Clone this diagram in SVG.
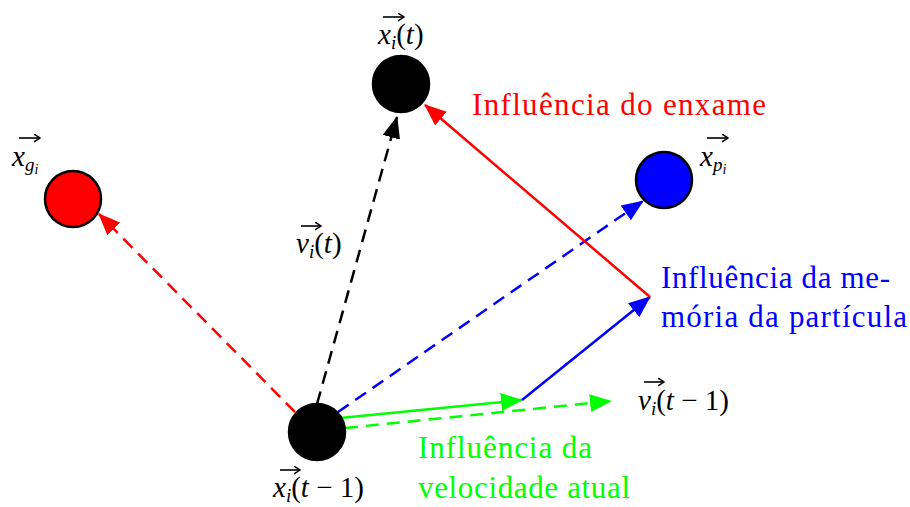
<svg xmlns="http://www.w3.org/2000/svg" width="910" height="507" viewBox="0 0 910 507">
<style>
.lbl{font-family:'Liberation Serif','Times New Roman',serif;font-size:31px}
.m{font-family:'Liberation Serif','Times New Roman',serif;font-size:29px;fill:#000}
.it{font-style:italic}
.sub{font-size:19px;font-style:italic}
.ss{font-size:14px;font-style:italic}
.vec{stroke:#000;stroke-width:1.6;fill:none}
.c{stroke:#000;stroke-width:2.5}
.e{stroke-width:2.5;fill:none}
.d{stroke-dasharray:13 8}
</style>
<defs>
<marker id="ar" markerUnits="userSpaceOnUse" markerWidth="24" markerHeight="20" refX="21" refY="9" orient="auto"><path d="M0,0 L22,9 L0,18 z" fill="#ff0000"/></marker>
<marker id="ak" markerUnits="userSpaceOnUse" markerWidth="24" markerHeight="20" refX="21" refY="9" orient="auto"><path d="M0,0 L22,9 L0,18 z" fill="#000"/></marker>
<marker id="ab" markerUnits="userSpaceOnUse" markerWidth="24" markerHeight="20" refX="21" refY="9" orient="auto"><path d="M0,0 L22,9 L0,18 z" fill="#0000ff"/></marker>
<marker id="ag" markerUnits="userSpaceOnUse" markerWidth="24" markerHeight="20" refX="21" refY="9" orient="auto"><path d="M0,0 L22,9 L0,18 z" fill="#00ff00"/></marker>
<marker id="vh" markerUnits="userSpaceOnUse" markerWidth="10" markerHeight="10" refX="6" refY="4" orient="auto"><path d="M0,0 L6,4 L0,8" stroke="#000" stroke-width="1.5" fill="none"/></marker>
</defs>
<g id="connectors">
<line class="e d" x1="295" y1="412" x2="99" y2="214" stroke="#ff0000" marker-end="url(#ar)"/>
<line class="e d" x1="317" y1="404" x2="397" y2="117" stroke="#000" marker-end="url(#ak)"/>
<line class="e d" x1="338" y1="412" x2="643" y2="201" stroke="#0000ff" marker-end="url(#ab)"/>
<line class="e" x1="340" y1="418" x2="522" y2="400" stroke="#00ff00" marker-end="url(#ag)"/>
<line class="e d" x1="345" y1="428" x2="611" y2="401" stroke="#00ff00" marker-end="url(#ag)"/>
<line class="e" x1="522" y1="400" x2="650" y2="297" stroke="#0000ff" marker-end="url(#ab)"/>
<line class="e" x1="650" y1="297" x2="425" y2="105" stroke="#ff0000" marker-end="url(#ar)"/>
</g>
<g id="node-xit">
<circle class="c" cx="401" cy="84" r="28" fill="#000"/>
<path class="vec" d="M383,17 H404" marker-end="url(#vh)"/>
<text class="m" x="378" y="44"><tspan class="it">x</tspan><tspan class="sub" dy="5">i</tspan><tspan dy="-5">(</tspan><tspan class="it">t</tspan>)</text>
</g>
<g id="node-xgi">
<circle class="c" cx="73" cy="199" r="28" fill="#ff0000"/>
<path class="vec" d="M19,138 H40" marker-end="url(#vh)"/>
<text class="m" x="12" y="166"><tspan class="it">x</tspan><tspan class="sub" dy="5">g</tspan><tspan class="ss" dy="3">i</tspan></text>
</g>
<g id="node-xpi">
<circle class="c" cx="664" cy="180" r="28" fill="#0000ff"/>
<path class="vec" d="M707,138 H728" marker-end="url(#vh)"/>
<text class="m" x="700" y="166"><tspan class="it">x</tspan><tspan class="sub" dy="5">p</tspan><tspan class="ss" dy="3">i</tspan></text>
</g>
<g id="node-xit1">
<circle class="c" cx="317" cy="432" r="28" fill="#000"/>
<path class="vec" d="M280,470 H300" marker-end="url(#vh)"/>
<text class="m" x="273" y="497"><tspan class="it">x</tspan><tspan class="sub" dy="5">i</tspan><tspan dy="-5">(</tspan><tspan class="it">t</tspan> − 1)</text>
</g>
<g id="label-vit">
<path class="vec" d="M301,226 H321" marker-end="url(#vh)"/>
<text class="m" x="296" y="253"><tspan class="it">v</tspan><tspan class="sub" dy="5">i</tspan><tspan dy="-5">(</tspan><tspan class="it">t</tspan>)</text>
</g>
<g id="label-vit1">
<path class="vec" d="M644,382 H664" marker-end="url(#vh)"/>
<text class="m" x="638" y="410"><tspan class="it">v</tspan><tspan class="sub" dy="5">i</tspan><tspan dy="-5">(</tspan><tspan class="it">t</tspan> − 1)</text>
</g>
<g id="label-enxame">
<text class="lbl" x="472" y="115" fill="#ff0000" textLength="294" lengthAdjust="spacing">Influência do enxame</text>
</g>
<g id="label-memoria">
<text class="lbl" x="661" y="288" fill="#0000ff" textLength="229" lengthAdjust="spacing">Influência da me-</text>
<text class="lbl" x="661" y="327" fill="#0000ff" textLength="246" lengthAdjust="spacing">mória da partícula</text>
</g>
<g id="label-velocidade">
<text class="lbl" x="418" y="458" fill="#00ff00" textLength="174" lengthAdjust="spacing">Influência da</text>
<text class="lbl" x="418" y="498" fill="#00ff00" textLength="212" lengthAdjust="spacing">velocidade atual</text>
</g>
</svg>
